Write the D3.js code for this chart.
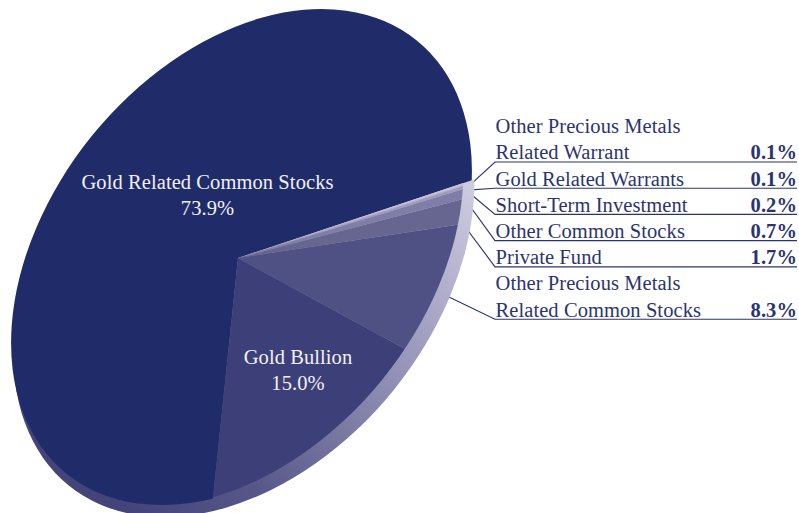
<!DOCTYPE html>
<html>
<head>
<meta charset="utf-8">
<script src="https://cdn.jsdelivr.net/npm/d3@7/dist/d3.min.js"></script>
<style>
  html, body { margin: 0; background: #fff; }
  svg { display: block; }
  text { font-family: "Liberation Serif", serif; font-size: 20.5px; letter-spacing: 0.08px; }
</style>
</head>
<body>
<svg id="chart" width="799" height="513"></svg>
<script>
// Portfolio composition, in the clockwise order of the slices.
const categories = [
  ["Other Precious Metals", "Related Warrant"],
  ["Gold Related Warrants"],
  ["Short-Term Investment"],
  ["Other Common Stocks"],
  ["Private Fund"],
  ["Other Precious Metals", "Related Common Stocks"],
  ["Gold Bullion"],
  ["Gold Related Common Stocks"]
];
const values = [0.1, 0.1, 0.2, 0.7, 1.7, 8.3, 15.0, 73.9];
const valueLabels = ["0.1%", "0.1%", "0.2%", "0.7%", "1.7%", "8.3%", "15.0%", "73.9%"];
const faceColors = ["#c6c5dc", "#b3b2cd", "#9c9bbc", "#7f7ea6", "#666691", "#4f5083", "#3d4078", "#202c69"];

// Where each callout touches the rim, as a running percentage around the pie.
const calloutAnchors = [0.36, 0.58, 0.67, 1.33, 2.8, 7.25];
// Row on the callout grid occupied by each rule.
const calloutRows = [0, 1, 2, 3, 4, 6];

const inkColor = "#2b3471";
const labelColor = "#f0f0f6";

// The tilted pie is a unit circle pushed through an affine map.
const tilt = -51 * Math.PI / 180, semiMajor = 278.5, semiMinor = 192.5;
const ux = Math.cos(tilt), uy = Math.sin(tilt), vx = -uy, vy = ux;
const tiltMatrix = (cx, cy) =>
  `matrix(${ux * semiMajor},${uy * semiMajor},${vx * semiMinor},${vy * semiMinor},${cx},${cy})`;
const apex = [238, 258];
const startAngle = (42.8 + 90) * Math.PI / 180;

// Screen position to the pie's own unit coordinates.
const toUnit = (X, Y) => [
  ((X - apex[0]) * ux + (Y - apex[1]) * uy) / semiMajor,
  ((X - apex[0]) * vx + (Y - apex[1]) * vy) / semiMinor
];

const svg = d3.select("#chart");
const defs = svg.append("defs");

// Rim shading runs from dark at the lower left to pale at the upper right.
const rimFrom = toUnit(130, 510), rimTo = toUnit(472, 185);
const rimGradient = defs.append("linearGradient")
  .attr("id", "rimShade").attr("gradientUnits", "userSpaceOnUse")
  .attr("x1", rimFrom[0]).attr("y1", rimFrom[1]).attr("x2", rimTo[0]).attr("y2", rimTo[1]);
[[0, "#43457a"], [0.25, "#57578a"], [0.5, "#7f7ea6"], [0.75, "#a5a3c3"], [1, "#cdccdf"]]
  .forEach(([o, c]) => rimGradient.append("stop").attr("offset", o).attr("stop-color", c));

const addClip = (id, cx, cy) => defs.append("clipPath").attr("id", id)
  .append("circle").attr("r", 1).attr("transform", tiltMatrix(cx, cy));
addClip("clipNavy", 241.5, 257);
addClip("clipFace", 233, 258);
addClip("clipRim", 244, 269);

const pie = d3.pie().sort(null).value(d => d)
  .startAngle(startAngle).endAngle(startAngle + 2 * Math.PI);
const slices = pie(values);
const sector = d3.arc().innerRadius(0).outerRadius(1.3);
const angleOfPct = d3.scaleLinear().domain([0, 100]).range([startAngle, startAngle + 2 * Math.PI]);

const inTilt = (clipId) => svg.append("g").attr("clip-path", `url(#${clipId})`)
  .append("g").attr("transform", tiltMatrix(apex[0], apex[1]));

// Callout rules and leaders sit under the pie so that they end at its rim.
const rowY = d3.scaleLinear().domain([0, 6]).range([162, 319.2]);
const ruleLeft = 495, ruleRight = 797;
const callouts = svg.append("g").attr("fill", "none").attr("stroke", inkColor).attr("stroke-width", 1.15);
calloutRows.forEach((row, i) => {
  const a = angleOfPct(calloutAnchors[i]);
  const x = Math.sin(a), y = -Math.cos(a);
  const px = apex[0] + x * ux * semiMajor + y * vx * semiMinor;
  const py = apex[1] + x * uy * semiMajor + y * vy * semiMinor;
  callouts.append("path").attr("d", d3.line()([[px, py], [ruleLeft, rowY(row)], [ruleRight, rowY(row)]]));
});

// Extruded edge of the pie.
inTilt("clipRim").append("path")
  .attr("d", d3.arc().innerRadius(0).outerRadius(1.3)({ startAngle, endAngle: startAngle + 4.2 }))
  .attr("fill", "url(#rimShade)");

// Largest slice reaches further out at the back than the lower faces do.
const last = slices.length - 1;
inTilt("clipNavy").append("path").attr("d", sector(slices[last])).attr("fill", faceColors[last]);

inTilt("clipFace").selectAll("path")
  .data(slices.slice(0, last).reverse())
  .join("path")
  .attr("d", sector)
  .attr("fill", d => faceColors[d.index]);

// Callout text.
const callout = svg.append("g").attr("fill", inkColor);
calloutRows.forEach((row, i) => {
  const lines = categories[i];
  lines.forEach((line, j) => {
    callout.append("text").attr("x", ruleLeft + 0.5)
      .attr("y", rowY(row) - 2.6 - (lines.length - 1 - j) * 26.2)
      .text(line);
  });
  callout.append("text").attr("x", ruleRight).attr("y", rowY(row) - 2.6)
    .attr("text-anchor", "end").attr("font-weight", "bold")
    .text(valueLabels[i]);
});

// Labels printed on the two largest slices.
const onPie = svg.append("g").attr("fill", labelColor).attr("text-anchor", "middle");
[[7, 207.5, 189], [6, 298, 364]].forEach(([i, x, y]) => {
  onPie.append("text").attr("x", x).attr("y", y).text(categories[i][0]);
  onPie.append("text").attr("x", x).attr("y", y + 25.5).text(valueLabels[i]);
});
</script>
</body>
</html>
